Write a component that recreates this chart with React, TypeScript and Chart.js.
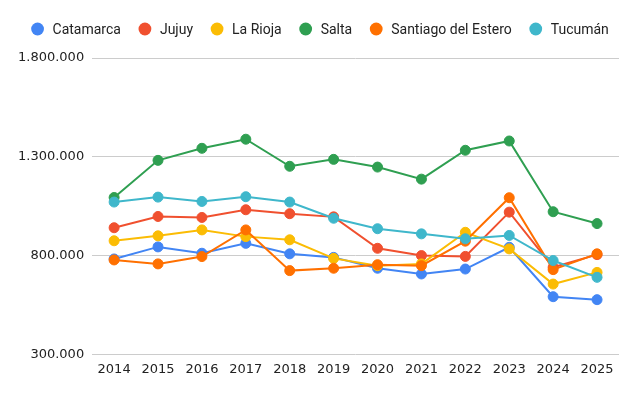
import React, { useEffect, useRef } from "react";
import { Chart, registerables } from "chart.js";

Chart.register(...registerables);

const years = ["2014","2015","2016","2017","2018","2019","2020","2021","2022","2023","2024","2025"];
const catamarca = [783000, 844000, 812000, 862000, 809000, 791000, 736000, 707000, 732000, 842000, 592000, 577000];
const jujuy = [941000, 998000, 993000, 1032000, 1012000, 996000, 837000, 800000, 796000, 1020000, 741000, 805000];
const laRioja = [875000, 900000, 930000, 896000, 880000, 786000, 749000, 758000, 918000, 834000, 656000, 715000];
const salta = [1094000, 1282000, 1343000, 1389000, 1252000, 1287000, 1248000, 1187000, 1333000, 1380000, 1022000, 962000];
const santiago = [778000, 758000, 795000, 930000, 724000, 736000, 754000, 749000, 873000, 1093000, 729000, 809000];
const tucuman = [1071000, 1096000, 1074000, 1098000, 1071000, 989000, 936000, 910000, 885000, 902000, 775000, 690000];

const seriesNames = ["Catamarca", "Jujuy", "La Rioja", "Salta", "Santiago del Estero", "Tucumán"];
const seriesData = [catamarca, jujuy, laRioja, salta, santiago, tucuman];
const colors = ["#4285F4", "#F0502F", "#FBBC04", "#2F9F51", "#FF7000", "#3FB7CB"];

const fmt = (v: number) => Math.round(v).toString().replace(/\B(?=(\d{3})+(?!\d))/g, ".");

const legendPlugin = {
  id: "customLegend",
  afterDraw(chart: any) {
    const ctx = chart.ctx as CanvasRenderingContext2D;
    ctx.save();
    ctx.font = "14px Roboto";
    const r = 6.4;
    const textGap = 15;
    const itemGap = 24;
    const widths = seriesNames.map((n) => ctx.measureText(n).width);
    let total = r;
    widths.forEach((w, i) => {
      total += textGap + w;
      if (i < widths.length - 1) total += itemGap;
    });
    let x = chart.width / 2 - total / 2 + r;
    const y = 29;
    ctx.textBaseline = "middle";
    seriesNames.forEach((name, i) => {
      ctx.fillStyle = colors[i];
      ctx.beginPath();
      ctx.arc(x, y, r, 0, Math.PI * 2);
      ctx.fill();
      ctx.fillStyle = "#222";
      ctx.fillText(name, x + textGap, y + 1);
      x += textGap + widths[i] + itemGap;
    });
    ctx.restore();
  },
};

export default function App() {
  const ref = useRef<HTMLCanvasElement | null>(null);
  useEffect(() => {
    document.body.style.margin = "0";
    const ctx = ref.current!;
    const chart = new Chart(ctx, {
      type: "line",
      data: {
        labels: years,
        datasets: seriesNames.map((name, i) => ({
          label: name,
          data: seriesData[i],
          borderColor: colors[i],
          backgroundColor: colors[i],
          pointBackgroundColor: colors[i],
          pointBorderColor: colors[i],
          pointRadius: 5,
          pointBorderWidth: 1,
          borderWidth: 2,
          tension: 0,
          order: -i,
        })),
      },
      options: {
        animation: false,
        responsive: false,
        maintainAspectRatio: false,
        layout: { padding: { left: 10, right: 21, top: 58, bottom: 12 } },
        plugins: {
          tooltip: { enabled: false },
          legend: { display: false },
        },
        scales: {
          x: {
            offset: true,
            grid: { display: false, drawTicks: false },
            border: { display: false },
            ticks: { padding: 7, color: "#222", font: { family: "DejaVu Sans", size: 13 }, maxRotation: 0 },
          },
          y: {
            min: 300000,
            max: 1800000,
            grid: { color: "#cccccc", drawTicks: false },
            border: { display: false },
            ticks: {
              stepSize: 500000,
              padding: 8,
              color: "#222",
              font: { family: "DejaVu Sans", size: 13 },
              callback: (v: any) => fmt(Number(v)),
            },
          },
        },
      },
      plugins: [legendPlugin],
    });
    return () => chart.destroy();
  }, []);
  return (
    <div style={{ width: 640, height: 396 }}>
      <canvas ref={ref} width={640} height={396} />
    </div>
  );
}
